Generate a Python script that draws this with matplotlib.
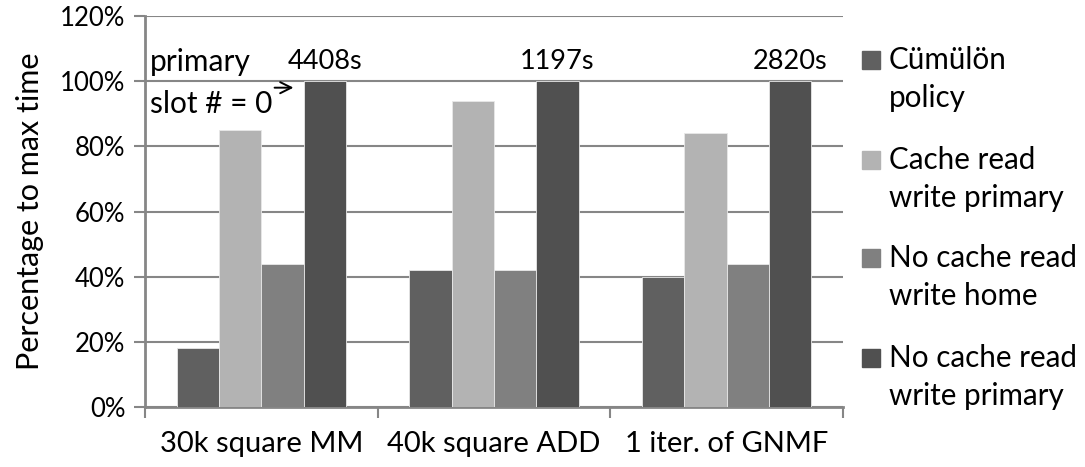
import numpy as np
import matplotlib
matplotlib.use('Agg')
import matplotlib.pyplot as plt
from matplotlib.patches import Rectangle

plt.rcParams['font.family'] = ['Lato', 'DejaVu Sans']

workloads = ['30k square MM', '40k square ADD', '1 iter. of GNMF']
series = ['Cümülön\npolicy', 'Cache read\nwrite primary',
          'No cache read\nwrite home', 'No cache read\nwrite primary']
values = [
    [18, 42, 40],
    [85, 94, 84],
    [44, 42, 44],
    [100, 100, 100],
]
max_times = ['4408s', '1197s', '2820s']
colors = ['#606060', '#b3b3b3', '#808080', '#505050']

W, H = 1085, 467
fig = plt.figure(figsize=(W / 100, H / 100), dpi=100)
ax = fig.add_axes([145 / W, (H - 407) / H, (843 - 145) / W, (407 - 16) / H])

axis_grey = '#868686'
x = np.arange(len(workloads))
bw = 0.182
for i, (vals, c) in enumerate(zip(values, colors)):
    ax.bar(x + (i - 1.5) * bw, vals, bw, color=c, edgecolor='#e8e8e8',
           linewidth=0.6, zorder=3)

ax.set_xlim(-0.5, len(workloads) - 0.5)
ax.set_ylim(0, 120)
ax.set_yticks(np.arange(0, 121, 20))
ax.set_yticklabels([f'{v}%' for v in range(0, 121, 20)], fontsize=18.5)
ax.yaxis.grid(True, color=axis_grey, linewidth=1.5, zorder=0)
ax.set_axisbelow(True)

ax.set_xticks(x)
ax.set_xticklabels(workloads, fontsize=21)
ax.tick_params(axis='x', which='major', length=0, pad=17)
ax.set_xticks(np.arange(-0.5, len(workloads)), minor=True)
ax.tick_params(axis='x', which='minor', length=8, width=1.5, color=axis_grey)
ax.tick_params(axis='y', length=8, width=1.5, color=axis_grey, pad=6)

for s in ['top', 'right']:
    ax.spines[s].set_visible(False)
for s in ['left', 'bottom']:
    ax.spines[s].set_color(axis_grey)
    ax.spines[s].set_linewidth(2)

ax.set_ylabel('Percentage to max time', fontsize=22, labelpad=12)

# max runtime labels over the 100% bars
for xi, lbl in zip(x, max_times):
    ax.annotate(lbl, (xi + 1.5 * bw, values[3][xi]), xytext=(0, 5),
                textcoords='offset points', ha='center', va='bottom',
                fontsize=19.5)

ax.text(-0.478, 106, 'primary', fontsize=21.5, va='center', ha='left')
ax.text(-0.478, 93, 'slot # = 0', fontsize=21.5, va='center', ha='left')
ax.annotate('', xy=(0.150, 98), xytext=(0.045, 98),
            arrowprops=dict(arrowstyle='->', color='black', lw=1.4,
                            mutation_scale=20))

# legend, one block per series
leg_top = [60, 160, 258, 358]
for lbl, c, yt in zip(series, colors, leg_top):
    fig.patches.append(Rectangle((862 / W, (H - yt - 9) / H), 18 / W, 18 / H,
                                 transform=fig.transFigure, color=c))
    first, second = lbl.split('\n')
    fig.text(889 / W, (H - yt) / H, first, fontsize=21.3, va='center')
    fig.text(889 / W, (H - yt - 38) / H, second, fontsize=21.3, va='center')

fig.savefig('out.png', dpi=100)
